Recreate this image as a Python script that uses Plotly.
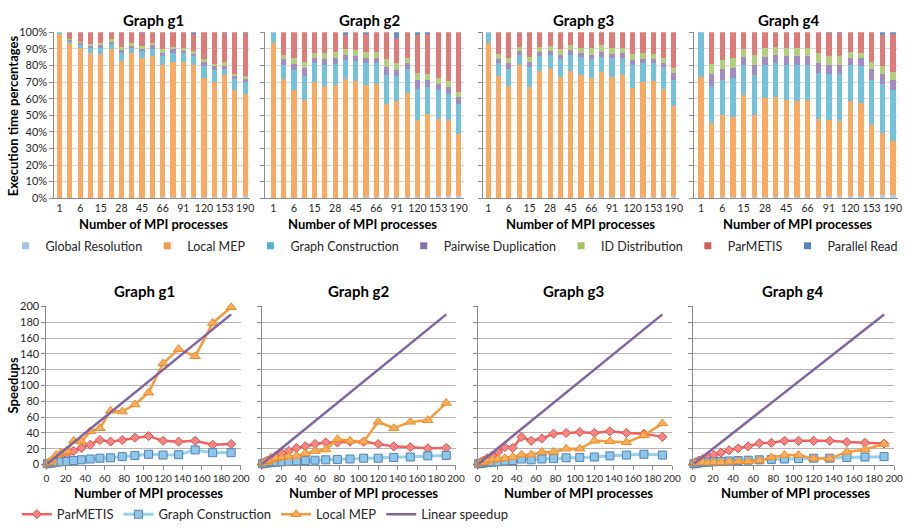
import plotly.graph_objects as go

W, H = 915, 532

PROCS = [1, 3, 6, 10, 15, 21, 28, 36, 45, 55, 66, 78, 91, 105, 120, 136, 153, 171, 190]
PROC_LABELS = [str(p) for p in PROCS]
BAR_TICKS = ["1", "6", "15", "28", "45", "66", "91", "120", "153", "190"]
COMPONENTS = ["Global Resolution", "Local MEP", "Graph Construction",
              "Pairwise Duplication", "ID Distribution", "ParMETIS", "Parallel Read"]
GRAPHS = ["Graph g1", "Graph g2", "Graph g3", "Graph g4"]

# ---- execution time percentages (stacked, per component) ----
G1_GR = [0.1, 0.2, 0.2, 0.2, 0.2, 0.3, 0.3, 0.3, 0.4, 0.4, 0.5, 0.5, 0.6, 0.7, 0.8, 0.9, 0.9, 1.0, 1.2]
G1_LMEP = [98.9, 93.1, 90.6, 87.6, 86.7, 89.9, 82.7, 87.2, 83.9, 85.5, 79.9, 81.9, 81.8, 79.7, 71.7, 69.3, 73.2, 64.3, 61.8]
G1_GC = [1.0, 1.7, 1.9, 3.0, 3.9, 2.8, 4.8, 3.3, 4.5, 4.3, 5.5, 5.4, 4.9, 5.1, 7.5, 7.4, 3.9, 6.5, 7.0]
G1_PD = [0.0, 0.5, 1.0, 1.0, 1.4, 1.0, 1.6, 1.0, 1.4, 2.0, 1.6, 2.0, 1.5, 1.4, 2.0, 2.0, 2.0, 1.9, 2.0]
G1_ID = [0.0, 0.8, 0.6, 1.2, 1.1, 1.7, 2.0, 1.5, 1.6, 1.5, 2.7, 1.6, 2.0, 1.9, 2.0, 1.4, 2.0, 1.4, 1.5]
G1_PAR = [0.0, 3.7, 5.7, 7.0, 6.7, 4.3, 8.6, 6.7, 7.7, 6.3, 9.8, 8.6, 9.2, 10.4, 16.0, 19.0, 17.5, 24.9, 26.0]
G1_PR = [0, 0, 0, 0, 0, 0, 0, 0, 0.5, 0, 0, 0, 0, 0.8, 0, 0, 0.5, 0, 0.5]

G2_GR = [0.2, 0.2, 0.3, 0.3, 0.3, 0.3, 0.4, 0.4, 0.5, 0.5, 0.6, 0.7, 0.8, 0.8, 1.0, 1.0, 1.1, 1.2, 1.3]
G2_LMEP = [93.6, 71.7, 65.2, 59.2, 69.7, 67.2, 67.7, 71.5, 70.0, 68.0, 68.3, 56.4, 58.1, 62.7, 46.1, 49.5, 46.4, 45.9, 37.7]
G2_GC = [6.2, 8.5, 11.9, 14.4, 11.4, 12.9, 12.7, 11.5, 12.3, 12.9, 12.5, 17.4, 15.0, 14.3, 18.8, 16.6, 17.6, 16.0, 18.0]
G2_PD = [0.0, 3.4, 3.4, 4.5, 3.0, 3.4, 3.6, 3.0, 3.0, 3.0, 3.4, 4.5, 3.5, 3.6, 5.2, 4.4, 4.0, 4.0, 4.0]
G2_ID = [0.0, 2.6, 3.6, 4.0, 3.4, 4.0, 4.0, 3.4, 3.6, 4.0, 3.6, 4.8, 4.0, 3.4, 4.3, 3.5, 3.4, 3.4, 3.0]
G2_PAR = [0.0, 13.6, 15.6, 17.6, 12.2, 12.2, 11.6, 8.6, 10.6, 10.6, 11.6, 16.2, 15.0, 15.2, 23.0, 24.0, 27.5, 29.5, 36.0]
G2_PR = [0, 0, 0, 0, 0, 0, 0, 1.6, 0, 1.0, 0, 0, 3.6, 0, 1.6, 1.0, 0, 0, 0]

G3_GR = [0.2, 0.2, 0.2, 0.3, 0.3, 0.3, 0.3, 0.4, 0.4, 0.4, 0.5, 0.5, 0.6, 0.6, 0.7, 0.8, 0.8, 0.9, 1.2]
G3_LMEP = [93.6, 73.7, 67.3, 80.1, 66.8, 76.5, 77.7, 72.6, 76.6, 74.1, 72.0, 75.3, 72.4, 73.9, 65.8, 69.1, 69.7, 65.0, 54.7]
G3_GC = [6.2, 7.5, 10.5, 6.0, 12.3, 9.0, 8.4, 10.8, 9.4, 10.5, 11.3, 9.6, 11.4, 10.3, 13.9, 11.5, 10.9, 13.1, 15.6]
G3_PD = [0.0, 2.6, 3.4, 2.4, 2.6, 2.6, 2.4, 2.6, 3.0, 2.4, 2.6, 3.0, 2.6, 2.6, 3.0, 2.4, 2.6, 2.8, 3.9]
G3_ID = [0.0, 2.8, 3.0, 2.6, 3.4, 3.0, 3.0, 3.4, 3.0, 3.4, 4.0, 4.0, 3.4, 3.0, 3.6, 3.6, 3.0, 3.0, 3.0]
G3_PAR = [0.0, 13.2, 15.6, 8.6, 14.6, 8.6, 8.2, 10.2, 7.6, 9.2, 9.6, 7.6, 9.6, 9.6, 13.0, 12.6, 13.0, 15.2, 21.6]
G3_PR = [0, 0, 0, 0, 0, 0, 0, 0, 0, 0, 0, 0, 0, 0, 0, 0, 0, 0, 0]

G4_GR = [0.3, 0.4, 0.5, 0.5, 0.6, 0.6, 0.7, 0.7, 0.8, 0.8, 0.9, 1.0, 1.2, 1.2, 1.3, 1.3, 1.5, 1.7, 2.0]
G4_LMEP = [72.7, 45.1, 49.4, 48.4, 61.9, 49.3, 59.8, 60.4, 58.7, 58.1, 58.2, 46.5, 45.9, 45.3, 57.2, 56.2, 42.4, 37.8, 32.5]
G4_GC = [27.0, 22.4, 21.6, 23.6, 17.9, 24.6, 19.9, 20.3, 20.9, 21.5, 21.3, 27.9, 27.9, 28.5, 21.9, 22.3, 27.6, 29.6, 30.6]
G4_PD = [0.0, 7.0, 6.3, 5.9, 4.6, 5.9, 4.6, 5.0, 5.4, 5.4, 5.4, 6.0, 5.4, 5.4, 4.0, 4.6, 6.3, 5.9, 6.4]
G4_ID = [0.0, 5.9, 5.6, 6.0, 4.8, 6.0, 5.4, 5.0, 5.0, 5.0, 4.6, 6.0, 5.6, 5.4, 3.6, 3.0, 4.6, 4.8, 4.9]
G4_PAR = [0.0, 19.2, 16.6, 15.6, 10.2, 13.6, 9.6, 8.6, 9.2, 9.2, 9.6, 12.6, 13.4, 13.6, 12.0, 12.6, 17.6, 18.6, 22.6]
G4_PR = [0, 0, 0, 0, 0, 0, 0, 0, 0, 0, 0, 0, 0.6, 0.6, 0, 0, 0, 1.6, 1.0]

# ---- speedups ----
G1_SP_PARMETIS = [1, 2, 4, 8, 10, 13, 17, 21, 25, 31, 29, 31, 34, 36, 30, 29, 30, 25, 26]
G1_SP_GC = [1, 1.5, 2, 3, 3.5, 4, 5, 6, 7, 8, 8.5, 10, 11.5, 13, 12, 12.5, 18.5, 15, 15]
G1_SP_LMEP = [1, 3, 6, 12, 15, 17, 30, 29, 42, 46, 68, 67, 76, 91, 128, 146, 137, 179, 199]
G2_SP_PARMETIS = [1, 3, 5, 8, 11, 14, 17, 21, 23, 26, 28, 28, 29, 29, 26, 23, 22, 20.5, 21]
G2_SP_GC = [1, 1.5, 2, 2.5, 3, 3.5, 4, 4.5, 5, 5.5, 6, 6.5, 7, 8, 8, 9, 9.5, 11, 11.5]
G2_SP_LMEP = [1, 2, 4, 6, 8, 9, 10, 11, 14, 17, 19, 32, 30, 29, 54, 46, 54, 56, 78]
G3_SP_PARMETIS = [1, 3, 5, 8, 11, 16, 22, 21, 35, 30, 33, 39, 40, 41, 40, 42, 40, 39, 35]
G3_SP_GC = [1, 1.5, 2, 2.5, 3, 3.5, 4.5, 5, 7, 6, 7, 7.5, 8.5, 9, 9.5, 11, 12, 13, 12]
G3_SP_LMEP = [1, 2, 3, 5, 6, 7, 8, 9.5, 12.5, 12.5, 16, 16, 20, 20, 30, 29.5, 28, 37, 52]
G4_SP_PARMETIS = [1, 3, 5, 7, 10, 12, 15, 18, 20.5, 23, 27, 27.5, 30, 30, 30, 30, 28.5, 27.5, 26.5]
G4_SP_GC = [1, 1.5, 2, 2.5, 3, 3.5, 4, 4.5, 5, 5.5, 6, 6.5, 7, 7.5, 8, 8, 9, 9.5, 10]
G4_SP_LMEP = [1, 1.5, 2, 2.5, 2, 3, 3, 3.5, 4, 4, 5, 9, 12, 12, 7.5, 7.5, 16, 19, 26]
LINEAR_SPEEDUP = [1, 3, 6, 10, 15, 21, 28, 36, 45, 55, 66, 78, 91, 105, 120, 136, 153, 171, 190]
SPEEDUP_TICKS = [0, 20, 40, 60, 80, 100, 120, 140, 160, 180, 200]

BAR_DATA = [
    [G1_GR, G1_LMEP, G1_GC, G1_PD, G1_ID, G1_PAR, G1_PR],
    [G2_GR, G2_LMEP, G2_GC, G2_PD, G2_ID, G2_PAR, G2_PR],
    [G3_GR, G3_LMEP, G3_GC, G3_PD, G3_ID, G3_PAR, G3_PR],
    [G4_GR, G4_LMEP, G4_GC, G4_PD, G4_ID, G4_PAR, G4_PR],
]
LINE_DATA = [
    [G1_SP_PARMETIS, G1_SP_GC, G1_SP_LMEP],
    [G2_SP_PARMETIS, G2_SP_GC, G2_SP_LMEP],
    [G3_SP_PARMETIS, G3_SP_GC, G3_SP_LMEP],
    [G4_SP_PARMETIS, G4_SP_GC, G4_SP_LMEP],
]

BAR_COLORS = ["#B8CCE4", "#F8A962", "#74C2D9", "#A28DC3", "#B4CF7C", "#DE7B78", "#6390CA"]
LEG_COLORS = ["#A9C2E2", "#F79A4A", "#52B0CA", "#8B70AC", "#A2C064", "#CC5E5B", "#5584C0"]

FONT = "Lato"
TXT = "#262626"
AXC = "#8C8C8C"

# panel geometry (pixels)
TOP_PANELS = [(52, 57.3, 10.45), (265, 274.0, 10.43), (486, 491.7, 10.45), (700, 707.3, 10.8)]
TOP_Y = (26, 196)
BOT_PANELS = [(44, 241), (262, 459), (481, 678), (699, 903)]
BOT_Y = (307, 469)


def dx(a, b):
    return [a / W, b / W]


def dy(top, bottom):
    return [1 - bottom / H, 1 - top / H]


fig = go.Figure()
layout = {}

for g in range(4):
    ax = g + 1
    xa = "x" if ax == 1 else f"x{ax}"
    ya = "y" if ax == 1 else f"y{ax}"
    for k, comp in enumerate(COMPONENTS):
        fig.add_trace(go.Bar(
            x=PROC_LABELS, y=BAR_DATA[g][k], name=comp, xaxis=xa, yaxis=ya,
            marker=dict(color=BAR_COLORS[k], line=dict(width=0)),
            width=0.5, showlegend=False, hoverinfo="name+y"))
    L, c0, s = TOP_PANELS[g]
    right = c0 + 18.5 * s
    layout[f"xaxis{'' if ax == 1 else ax}"] = dict(
        domain=dx(L, right), anchor=ya, type="category",
        range=[-(c0 - L) / s, 18.5], tickmode="array",
        tickvals=BAR_TICKS, ticktext=BAR_TICKS, showgrid=False, tickangle=0,
        showline=True, linecolor=AXC, linewidth=1, ticks="",
        tickfont=dict(family=FONT, size=10.5, color=TXT), zeroline=False)
    layout[f"yaxis{'' if ax == 1 else ax}"] = dict(
        domain=dy(*TOP_Y), anchor=xa, range=[0, 100], dtick=10,
        showgrid=True, gridcolor="#D9D9D9", gridwidth=1,
        showline=True, linecolor=AXC, linewidth=1, ticks="outside",
        ticklen=4, tickcolor=AXC, ticksuffix="%",
        showticklabels=(g == 0), zeroline=False,
        tickfont=dict(family=FONT, size=11, color=TXT))

# legend entries for the bar panels
for k, comp in enumerate(COMPONENTS):
    fig.add_trace(go.Scatter(
        x=[None], y=[None], mode="markers", name=comp, legend="legend",
        marker=dict(symbol="square", size=7, color=LEG_COLORS[k]),
        xaxis="x", yaxis="y", showlegend=True))

LINE_STYLES = [
    dict(name="ParMETIS", line=dict(color="#F0625E", width=2.5),
         marker=dict(symbol="diamond", size=7, color="#F58580", line=dict(color="#D9534F", width=1))),
    dict(name="Graph Construction", line=dict(color="#95D1E8", width=3),
         marker=dict(symbol="square", size=8, color="#8EC6E6", line=dict(color="#4F81BD", width=1))),
    dict(name="Local MEP", line=dict(color="#F79A3C", width=2.5),
         marker=dict(symbol="triangle-up", size=9, color="#F9AE5C", line=dict(color="#EE8A26", width=1))),
]

for g in range(4):
    ax = g + 5
    xa, ya = f"x{ax}", f"y{ax}"
    for k, st in enumerate(LINE_STYLES):
        fig.add_trace(go.Scatter(
            x=PROCS, y=LINE_DATA[g][k], mode="lines+markers", xaxis=xa, yaxis=ya,
            legend="legend2", showlegend=(g == 0), cliponaxis=False, **st))
    fig.add_trace(go.Scatter(
        x=PROCS, y=LINEAR_SPEEDUP, mode="lines", name="Linear speedup",
        line=dict(color="#8064A2", width=2.5), xaxis=xa, yaxis=ya,
        legend="legend2", showlegend=(g == 0), cliponaxis=False))
    a, b = BOT_PANELS[g]
    layout[f"xaxis{ax}"] = dict(
        domain=dx(a, b), anchor=ya, range=[0, 200], tickvals=SPEEDUP_TICKS,
        showgrid=False, showline=True, linecolor=AXC, linewidth=1, tickangle=0,
        ticks="outside", ticklen=4, tickcolor=AXC, zeroline=False,
        tickfont=dict(family=FONT, size=10, color=TXT))
    layout[f"yaxis{ax}"] = dict(
        domain=dy(*BOT_Y), anchor=xa, range=[0, 200], tickvals=SPEEDUP_TICKS,
        showgrid=True, gridcolor="#B5B5B5", gridwidth=1,
        showline=True, linecolor=AXC, linewidth=1, ticks="outside",
        ticklen=4, tickcolor=AXC, zeroline=False, showticklabels=(g == 0),
        tickfont=dict(family=FONT, size=11, color=TXT))

ann = []
TOP_TITLE_X = [152, 371, 588, 796]
BOT_TITLE_X = [143, 360, 578, 800]
TOP_XT_X = [152, 364, 585, 805]
BOT_XT_X = [147, 365, 583, 803]
for g in range(4):
    ann.append(dict(text=f"<b>{GRAPHS[g]}</b>", x=TOP_TITLE_X[g] / W, y=1 - 13 / H,
                    font=dict(family=FONT, size=15, color="#000")))
    ann.append(dict(text=f"<b>{GRAPHS[g]}</b>", x=BOT_TITLE_X[g] / W, y=1 - 291 / H,
                    font=dict(family=FONT, size=15, color="#000")))
    ann.append(dict(text="<b>Number of MPI processes</b>", x=TOP_XT_X[g] / W, y=1 - 222 / H,
                    font=dict(family=FONT, size=13, color="#000")))
    ann.append(dict(text="<b>Number of MPI processes</b>", x=BOT_XT_X[g] / W, y=1 - 498 / H,
                    font=dict(family=FONT, size=13, color="#000")))
ann.append(dict(text="<b>Execution time percentages</b>", x=10 / W, y=1 - 111 / H, textangle=-90,
                font=dict(family=FONT, size=13, color="#000")))
ann.append(dict(text="<b>Speedups</b>", x=10 / W, y=1 - 388 / H, textangle=-90,
                font=dict(family=FONT, size=13, color="#000")))
for a_ in ann:
    a_.update(xref="paper", yref="paper", showarrow=False, xanchor="center", yanchor="middle")

fig.update_layout(
    width=W, height=H, margin=dict(l=0, r=0, t=0, b=0),
    paper_bgcolor="white", plot_bgcolor="white",
    barmode="stack", barnorm="percent", bargap=0.5,
    annotations=ann,
    legend=dict(orientation="h", x=0.5, y=1 - 245 / H, xanchor="center", yanchor="middle",
                font=dict(family=FONT, size=12.5, color=TXT), itemwidth=30,
                traceorder="normal", bgcolor="rgba(0,0,0,0)"),
    legend2=dict(orientation="h", x=14 / W, y=1 - 520 / H, xanchor="left", yanchor="middle",
                 font=dict(family=FONT, size=13, color=TXT), itemwidth=30,
                 traceorder="normal", bgcolor="rgba(0,0,0,0)"),
    **layout,
)

fig.write_html("out.html")
